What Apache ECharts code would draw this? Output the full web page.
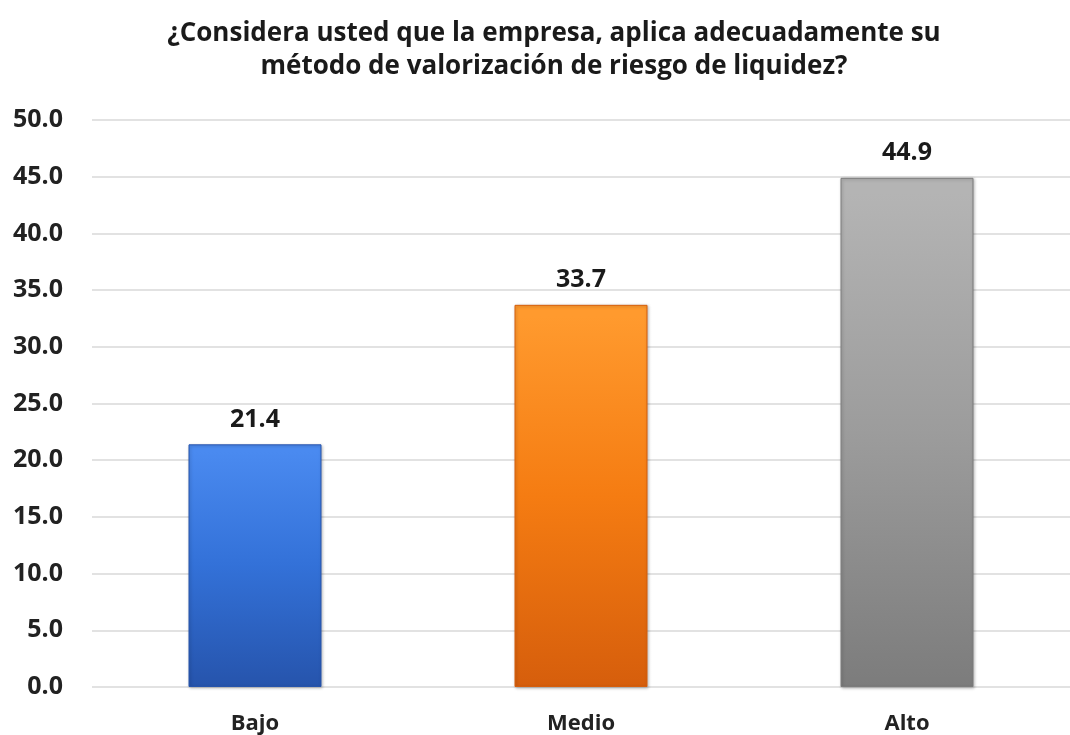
<!DOCTYPE html>
<html>
<head>
<meta charset="utf-8">
<script src="https://cdn.jsdelivr.net/npm/echarts@6/dist/echarts.min.js"></script>
<style>html,body{margin:0;padding:0;background:#fff;}#c{width:1070px;height:735px;}</style>
</head>
<body>
<div id="c"></div>
<script>
var categories = ['Bajo', 'Medio', 'Alto'];
var values = [21.4, 33.7, 44.9];
var yTicks = [0, 5, 10, 15, 20, 25, 30, 35, 40, 45, 50];
var titleText = '¿Considera usted que la empresa, aplica adecuadamente su\nmétodo de valorización de riesgo de liquidez?';

var palettes = [
  ['#4a8af0', '#3371d8', '#2654ac'],
  ['#ff9a2e', '#f57c12', '#d65e0c'],
  ['#b4b4b4', '#9c9c9c', '#7c7c7c']
];
var FONT = 'Open Sans';
var chart = echarts.init(document.getElementById('c'), null, {renderer: 'canvas'});
chart.setOption({
  backgroundColor: '#ffffff',
  animation: false,
  title: {
    text: titleText,
    left: 549, top: 12, textAlign: 'center',
    textStyle: {fontFamily: FONT, fontWeight: 'bold', fontSize: 26, color: '#1a1a1a', lineHeight: 33}
  },
  grid: {left: 92, right: -13, top: 120, bottom: 47, containLabel: false},
  xAxis: {
    type: 'category', data: categories,
    axisLine: {show: false}, axisTick: {show: false},
    axisLabel: {fontFamily: FONT, fontWeight: 'bold', fontSize: 22, color: '#222', margin: 26}
  },
  yAxis: {
    type: 'value', min: yTicks[0], max: yTicks[yTicks.length - 1], interval: 5,
    axisLine: {show: false}, axisTick: {show: false},
    splitLine: {lineStyle: {color: '#d9d9d9', width: 1.5}},
    axisLabel: {fontFamily: FONT, fontWeight: 'bold', fontSize: 25, color: '#222', margin: 29,
      formatter: function (v) { return v.toFixed(1); }}
  },
  series: [{
    type: 'bar', barWidth: 133,
    data: values.map(function (v, i) {
      var p = palettes[i];
      return {value: v, itemStyle: {
        color: new echarts.graphic.LinearGradient(0, 0, 0, 1, [
          {offset: 0, color: p[0]}, {offset: 0.03, color: p[0]}, {offset: 0.5, color: p[1]}, {offset: 1, color: p[2]}
        ]),
        borderColor: p[2], borderWidth: 1,
        shadowColor: 'rgba(0,0,0,0.25)', shadowBlur: 3, shadowOffsetX: 1, shadowOffsetY: 1
      }};
    }),
    label: {show: true, position: 'top', distance: 12, fontFamily: FONT, fontWeight: 'bold', fontSize: 25, color: '#1a1a1a',
      formatter: function (p) { return p.value.toFixed(1); }}
  }]
});
</script>
</body>
</html>
